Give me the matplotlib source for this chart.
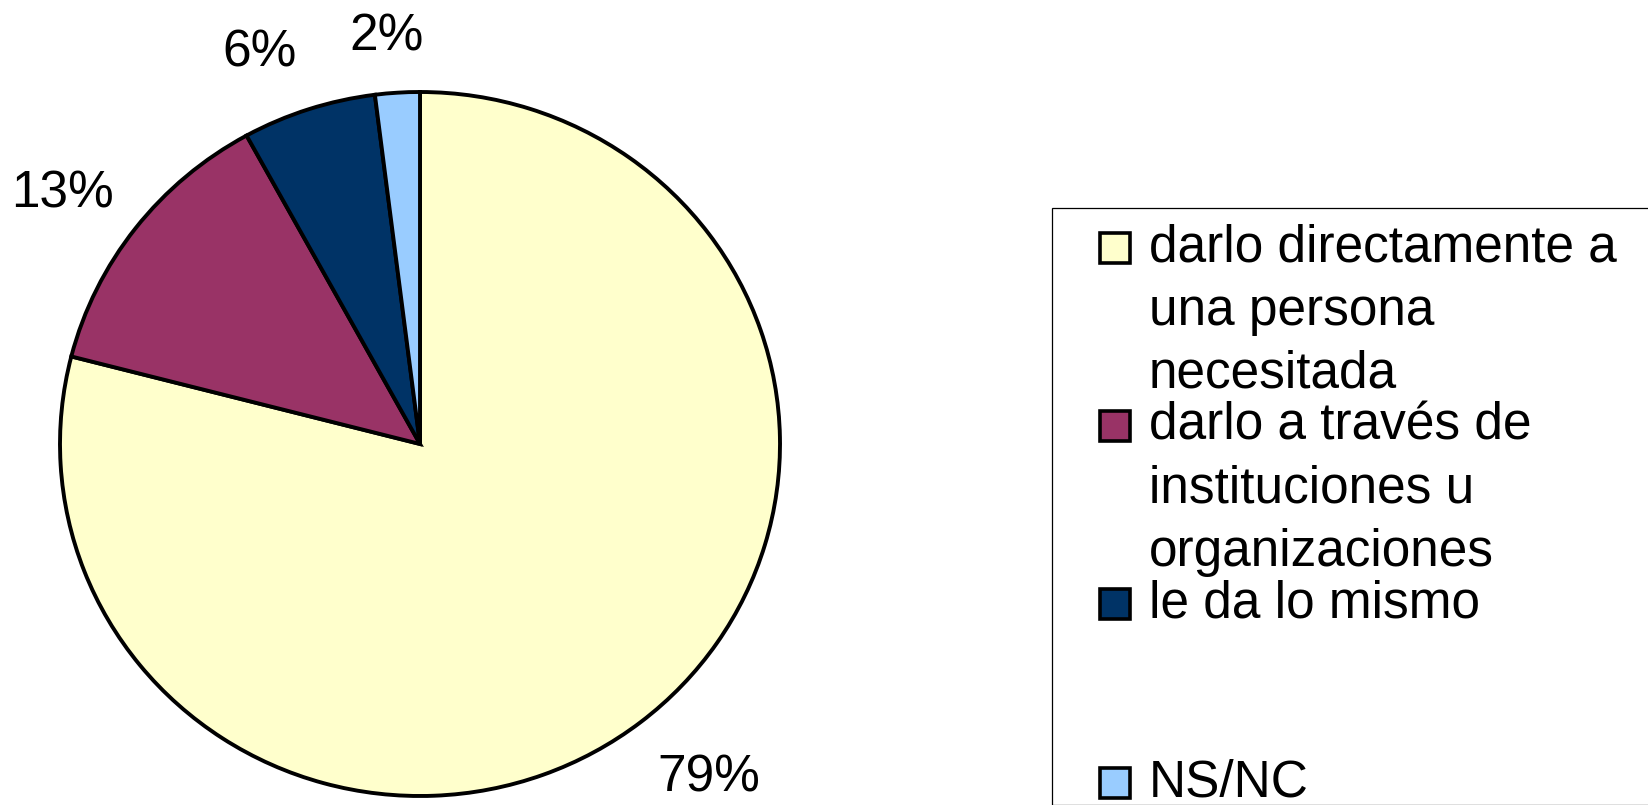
import matplotlib
matplotlib.use("Agg")
import matplotlib.pyplot as plt
from matplotlib.patches import Rectangle

plt.rcParams['font.family'] = ['Liberation Sans', 'DejaVu Sans']

categories = ["darlo directamente a\nuna persona\nnecesitada",
              "darlo a través de\ninstituciones u\norganizaciones",
              "le da lo mismo",
              "NS/NC"]
values = [79, 13, 6, 2]
colors = ["#FFFFCC", "#993366", "#003366", "#99CCFF"]

W, H = 1648, 805
fig = plt.figure(figsize=(W / 100, H / 100), dpi=100)

# pie axes: centre (420, 444) px, radii 360 x 352 px
cx, cy, rx, ry = 420, 444, 360, 352
ax = fig.add_axes([(cx - rx) / W, (H - cy - ry) / H, 2 * rx / W, 2 * ry / H])
wedges, _, autotexts = ax.pie(values, colors=colors, startangle=90, counterclock=False,
                              autopct='%1.0f%%', pctdistance=1.22,
                              wedgeprops=dict(edgecolor='black', linewidth=2.8),
                              textprops=dict(fontsize=37, color='black'))
ax.set_aspect('auto')
ax.set_xlim(-1, 1)
ax.set_ylim(-1, 1)
ax.axis('off')

# fine label placement (figure px)
label_pos = [(709, 778), (63, 194), (260, 53), (387, 37)]
for t, (px, py) in zip(autotexts, label_pos):
    t.set_transform(fig.transFigure)
    t.set_position((px / W, (H - py) / H))
    t.set_ha('center')
    t.set_va('center')
    t.set_clip_on(False)

# legend frame
fig.patches.append(Rectangle((1052 / W, 0), 1.0, (H - 208) / H, transform=fig.transFigure,
                             facecolor='white', edgecolor='black', linewidth=0.9, zorder=0))

entry_y = [248, 426, 604, 783]
line_gap = 63
for label, col, ey in zip(categories, colors, entry_y):
    sz = 30
    fig.patches.append(Rectangle((1100 / W, (H - ey - sz / 2) / H), sz / W, sz / H,
                                 transform=fig.transFigure, facecolor=col,
                                 edgecolor='black', linewidth=2.6, zorder=2))
    for i, line in enumerate(label.split("\n")):
        fig.text(1149 / W, (H - ey - i * line_gap) / H, line, fontsize=37,
                 ha='left', va='center', color='black')

fig.savefig("out.png", dpi=100, facecolor='white')
